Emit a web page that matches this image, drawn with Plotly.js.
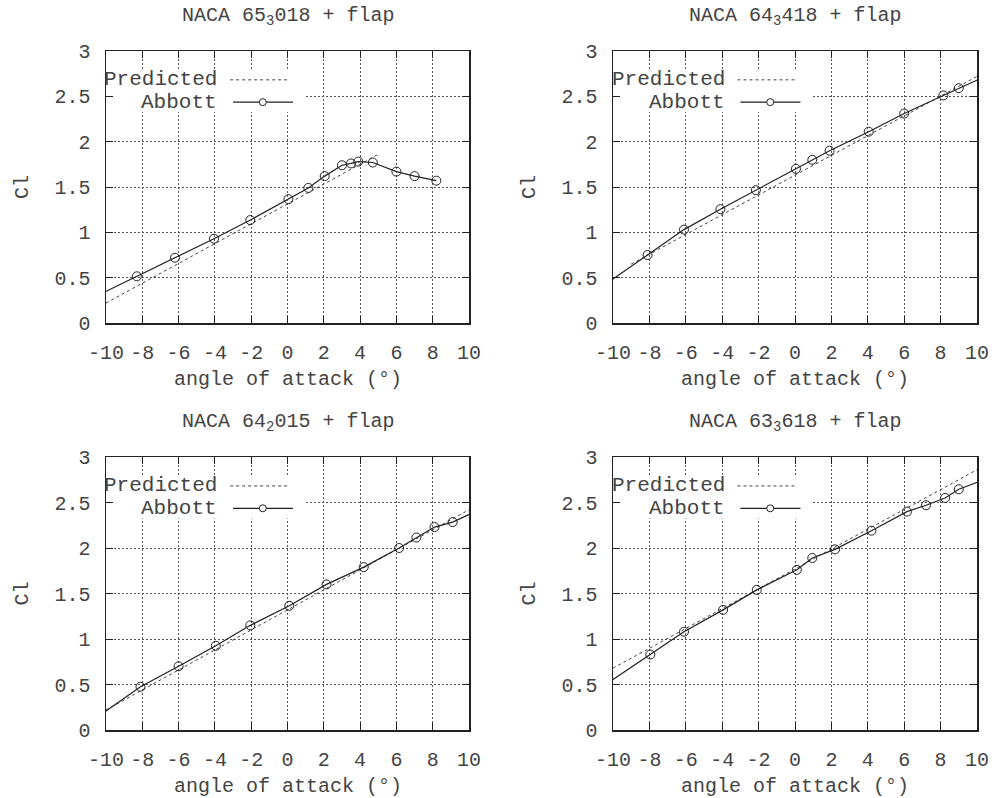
<!DOCTYPE html>
<html>
<head>
<meta charset="utf-8">
<script src="https://cdn.plot.ly/plotly-3.0.1.min.js"></script>
<style>
  html, body { margin: 0; padding: 0; background: #fff; }
  #chart { width: 998px; height: 798px; }
</style>
</head>
<body>
<div id="chart"></div>
<script>
// Lift coefficient vs angle of attack for four flapped NACA sections.
const panelTitles = [
  'NACA 65<sub>3</sub>018 + flap',
  'NACA 64<sub>3</sub>418 + flap',
  'NACA 64<sub>2</sub>015 + flap',
  'NACA 63<sub>3</sub>618 + flap'
];

const xTickVals = [-10, -8, -6, -4, -2, 0, 2, 4, 6, 8, 10];
const xTickLabels = ['-10', '-8', '-6', '-4', '-2', '0', '2', '4', '6', '8', '10'];
const yTickVals = [0, 0.5, 1, 1.5, 2, 2.5, 3];
const yTickLabels = ['0', '0.5', '1', '1.5', '2', '2.5', '3'];

const seriesNames = ['Predicted', 'Abbott'];
const xTitle = 'angle of attack (°)';
const yTitle = 'Cl';

// NACA 65-3-018 + flap
const predAlpha1 = [-10, 5];
const predCl1 = [0.22, 1.86];
const abbAlpha1 = [-10.5, -8.3, -6.2, -4.05, -2.05, 0.05, 1.15, 2.05, 3.0, 3.5, 3.9, 4.7, 6.0, 7.0, 8.2];
const abbCl1 = [0.30, 0.515, 0.72, 0.93, 1.135, 1.366, 1.49, 1.62, 1.74, 1.76, 1.78, 1.77, 1.67, 1.62, 1.57];

// NACA 64-3-418 + flap
const predAlpha2 = [-9, 10];
const predCl2 = [0.65, 2.72];
const abbAlpha2 = [-11, -8.1, -6.1, -4.1, -2.15, 0.05, 0.95, 1.9, 4.05, 6.0, 8.15, 9.0, 11];
const abbCl2 = [0.345, 0.75, 1.03, 1.255, 1.465, 1.70, 1.80, 1.90, 2.11, 2.31, 2.51, 2.59, 2.77];

// NACA 64-2-015 + flap
const predAlpha3 = [-10, 10];
const predCl3 = [0.22, 2.42];
const abbAlpha3 = [-10.5, -8.1, -6.0, -3.95, -2.05, 0.1, 2.15, 4.2, 6.15, 7.1, 8.1, 9.1, 11];
const abbCl3 = [0.14, 0.475, 0.70, 0.925, 1.15, 1.365, 1.60, 1.79, 2.00, 2.115, 2.23, 2.285, 2.46];

// NACA 63-3-618 + flap
const predAlpha4 = [-10, 10];
const predCl4 = [0.68, 2.86];
const abbAlpha4 = [-11, -7.95, -6.1, -3.95, -2.1, 0.1, 0.95, 2.2, 4.2, 6.15, 7.2, 8.25, 9.0, 11];
const abbCl4 = [0.42, 0.83, 1.08, 1.32, 1.54, 1.76, 1.89, 1.985, 2.19, 2.40, 2.47, 2.55, 2.645, 2.795];

const panels = [
  { pa: predAlpha1, pc: predCl1, aa: abbAlpha1, ac: abbCl1 },
  { pa: predAlpha2, pc: predCl2, aa: abbAlpha2, ac: abbCl2 },
  { pa: predAlpha3, pc: predCl3, aa: abbAlpha3, ac: abbCl3 },
  { pa: predAlpha4, pc: predCl4, aa: abbAlpha4, ac: abbCl4 }
];

const W = 998, H = 798;
const FONT = 'Liberation Mono, Courier New, monospace';
const INK = '#222';
const TXT = '#444';

// plot-area boxes in pixels: [left, right, top, bottom]
const boxes = [
  [106, 469, 51, 323],
  [613, 977, 51, 323],
  [106, 469, 457, 730],
  [613, 977, 457, 730]
];

const traces = [];
const layout = {
  width: W, height: H,
  margin: { l: 0, r: 0, t: 0, b: 0 },
  paper_bgcolor: '#fff', plot_bgcolor: '#fff',
  showlegend: false,
  font: { family: FONT, size: 20, color: TXT },
  annotations: [],
  shapes: []
};

function axisBase() {
  return {
    ticks: 'inside', ticklen: 7, tickwidth: 1, tickcolor: INK,
    showline: true, mirror: 'ticks', linecolor: INK, linewidth: 1.5,
    showgrid: true, gridcolor: '#555', gridwidth: 1, griddash: '2px,2px',
    zeroline: false, fixedrange: true,
    tickfont: { family: FONT, size: 20, color: TXT }
  };
}

panels.forEach((p, i) => {
  const n = i + 1;
  const sx = n === 1 ? '' : String(n);
  const xa = 'x' + sx, ya = 'y' + sx;
  const [l, r, t, b] = boxes[i];

  layout['xaxis' + sx] = Object.assign(axisBase(), {
    domain: [l / W, r / W], anchor: ya, range: [-10, 10],
    tickmode: 'array', tickvals: xTickVals, ticktext: xTickLabels,
    ticklabelstandoff: 10
  });
  layout['yaxis' + sx] = Object.assign(axisBase(), {
    domain: [1 - b / H, 1 - t / H], anchor: xa, range: [0, 3],
    tickmode: 'array', tickvals: yTickVals, ticktext: yTickLabels,
    ticklabelstandoff: 10
  });

  traces.push({
    x: p.pa, y: p.pc, xaxis: xa, yaxis: ya, type: 'scatter', mode: 'lines',
    name: seriesNames[0], line: { color: '#444', width: 1, dash: 'dot' }
  });
  traces.push({
    x: p.aa, y: p.ac, xaxis: xa, yaxis: ya, type: 'scatter', mode: 'lines+markers',
    name: seriesNames[1], line: { color: INK, width: 1.2 },
    marker: { symbol: 'circle-open', size: 9, color: INK, line: { width: 1, color: INK } },
    cliponaxis: true
  });

  const cx = (l + r) / 2;
  // panel title
  layout.annotations.push({
    text: panelTitles[i], xref: 'paper', yref: 'paper',
    x: cx / W, y: 1 - (t - 35) / H, xanchor: 'center', yanchor: 'middle',
    showarrow: false, font: { family: FONT, size: 20, color: TXT }
  });
  // x-axis title
  layout.annotations.push({
    text: xTitle, xref: 'paper', yref: 'paper',
    x: cx / W, y: 1 - (b + 56) / H, xanchor: 'center', yanchor: 'middle',
    showarrow: false, font: { family: FONT, size: 20, color: TXT }
  });
  // y-axis title
  layout.annotations.push({
    text: yTitle, xref: 'paper', yref: 'paper', textangle: -90,
    x: (l - 84) / W, y: 1 - ((t + b) / 2) / H, xanchor: 'center', yanchor: 'middle',
    showarrow: false, font: { family: FONT, size: 20, color: TXT }
  });

  // key: opaque box hiding the grid, labels left of the line samples
  const xd = xa + ' domain', yd = ya + ' domain';
  layout.shapes.push({
    type: 'rect', xref: xd, yref: yd, xsizemode: 'pixel', xanchor: 0,
    x0: 8, x1: 198, y0: 0.775, y1: 0.93,
    fillcolor: '#fff', line: { width: 0 }, layer: 'above'
  });
  layout.shapes.push({
    type: 'line', xref: xd, yref: yd, x0: 0.342, x1: 0.505, y0: 0.894, y1: 0.894,
    line: { color: '#444', width: 1, dash: 'dot' }, layer: 'above'
  });
  layout.shapes.push({
    type: 'line', xref: xd, yref: yd, x0: 0.35, x1: 0.515, y0: 0.812, y1: 0.812,
    line: { color: INK, width: 1.2 }, layer: 'above'
  });
  layout.shapes.push({
    type: 'circle', xref: xd, yref: yd, xsizemode: 'pixel', ysizemode: 'pixel',
    xanchor: 0.432, yanchor: 0.812, x0: -3.5, x1: 3.5, y0: -3.5, y1: 3.5,
    fillcolor: '#fff', line: { color: INK, width: 1 }, layer: 'above'
  });
  layout.annotations.push({
    text: seriesNames[0], xref: xd, yref: yd, x: 0.312, y: 0.894,
    xanchor: 'right', yanchor: 'middle', showarrow: false,
    font: { family: FONT, size: 21, color: TXT }
  });
  layout.annotations.push({
    text: seriesNames[1], xref: xd, yref: yd, x: 0.312, y: 0.812,
    xanchor: 'right', yanchor: 'middle', showarrow: false,
    font: { family: FONT, size: 21, color: TXT }
  });
});

Plotly.newPlot('chart', traces, layout, { displayModeBar: false, staticPlot: true });
</script>
</body>
</html>
